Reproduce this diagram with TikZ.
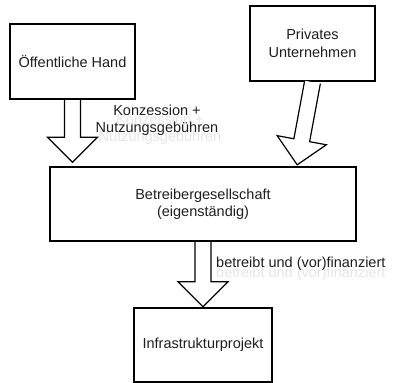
\documentclass[tikz,border=0pt]{standalone}
\usepackage{fontspec}
\setmainfont{Liberation Sans}
\usetikzlibrary{calc}

\tikzset{
  box/.style={draw=black, line width=2.4pt, fill=white, inner sep=0pt,
              align=center, text=black!88},
  blockarrow/.style={draw=black, line width=1.2pt, fill=white, line join=miter},
  lbl/.style={inner sep=0pt, align=center, text=black!88},
  ghost/.style={inner sep=0pt, align=center, text=black!10},
}

% hollow block arrow from #1 (tail) to #2 (tip); #3 names the helper point
\newcommand\blockarr[3]{%
  \coordinate (#3-b) at ($(#2)!25pt!(#1)$);
  \draw[blockarrow]
    ($(#1)!8pt!90:(#2)$) -- ($(#3-b)!8pt!90:(#2)$) -- ($(#3-b)!25pt!90:(#2)$)
    -- (#2)
    -- ($(#3-b)!25pt!-90:(#2)$) -- ($(#3-b)!8pt!-90:(#2)$) -- ($(#1)!8pt!-90:(#2)$);
}

\begin{document}
\begin{tikzpicture}[x=1pt, y=-1pt, font=\fontsize{14.5}{17.5}\selectfont]
  \useasboundingbox (0,0) rectangle (394,383);

  % boxes
  \node[box, minimum width=125pt, minimum height=75pt] (oh) at (72.5,61.5) {Öffentliche Hand};
  \node[box, minimum width=125pt, minimum height=75pt] (pu) at (312.5,43.5) {Privates\\Unternehmen};
  \node[box, minimum width=306pt, minimum height=74pt] (bg) at (203,204) {Betreibergesellschaft\\(eigenständig)};
  \node[box, minimum width=138pt, minimum height=74pt] (ip) at (203,345) {Infrastrukturprojekt};

  % arrow tips
  \coordinate (t1) at ($(oh.south)+(0,62)$);
  \coordinate (t2) at ($(bg.north east)+(-60,-1)$);

  % block arrows
  \blockarr{oh.south}{t1}{a1}
  \blockarr{pu.south}{t2}{a2}
  \blockarr{bg.south}{ip.north}{a3}

  % faint mirrored copies of the labels
  \node[ghost] at (160,129) {Konzession +\\Nutzungsgebühren};
  \node[ghost, anchor=west] at (216,274) {betreibt und (vor)finanziert};

  % labels
  \node[lbl] (l1) at (157,120) {Konzession +\\Nutzungsgebühren};
  \node[lbl, anchor=west] (l2) at (216,264) {betreibt und (vor)finanziert};
\end{tikzpicture}
\end{document}
